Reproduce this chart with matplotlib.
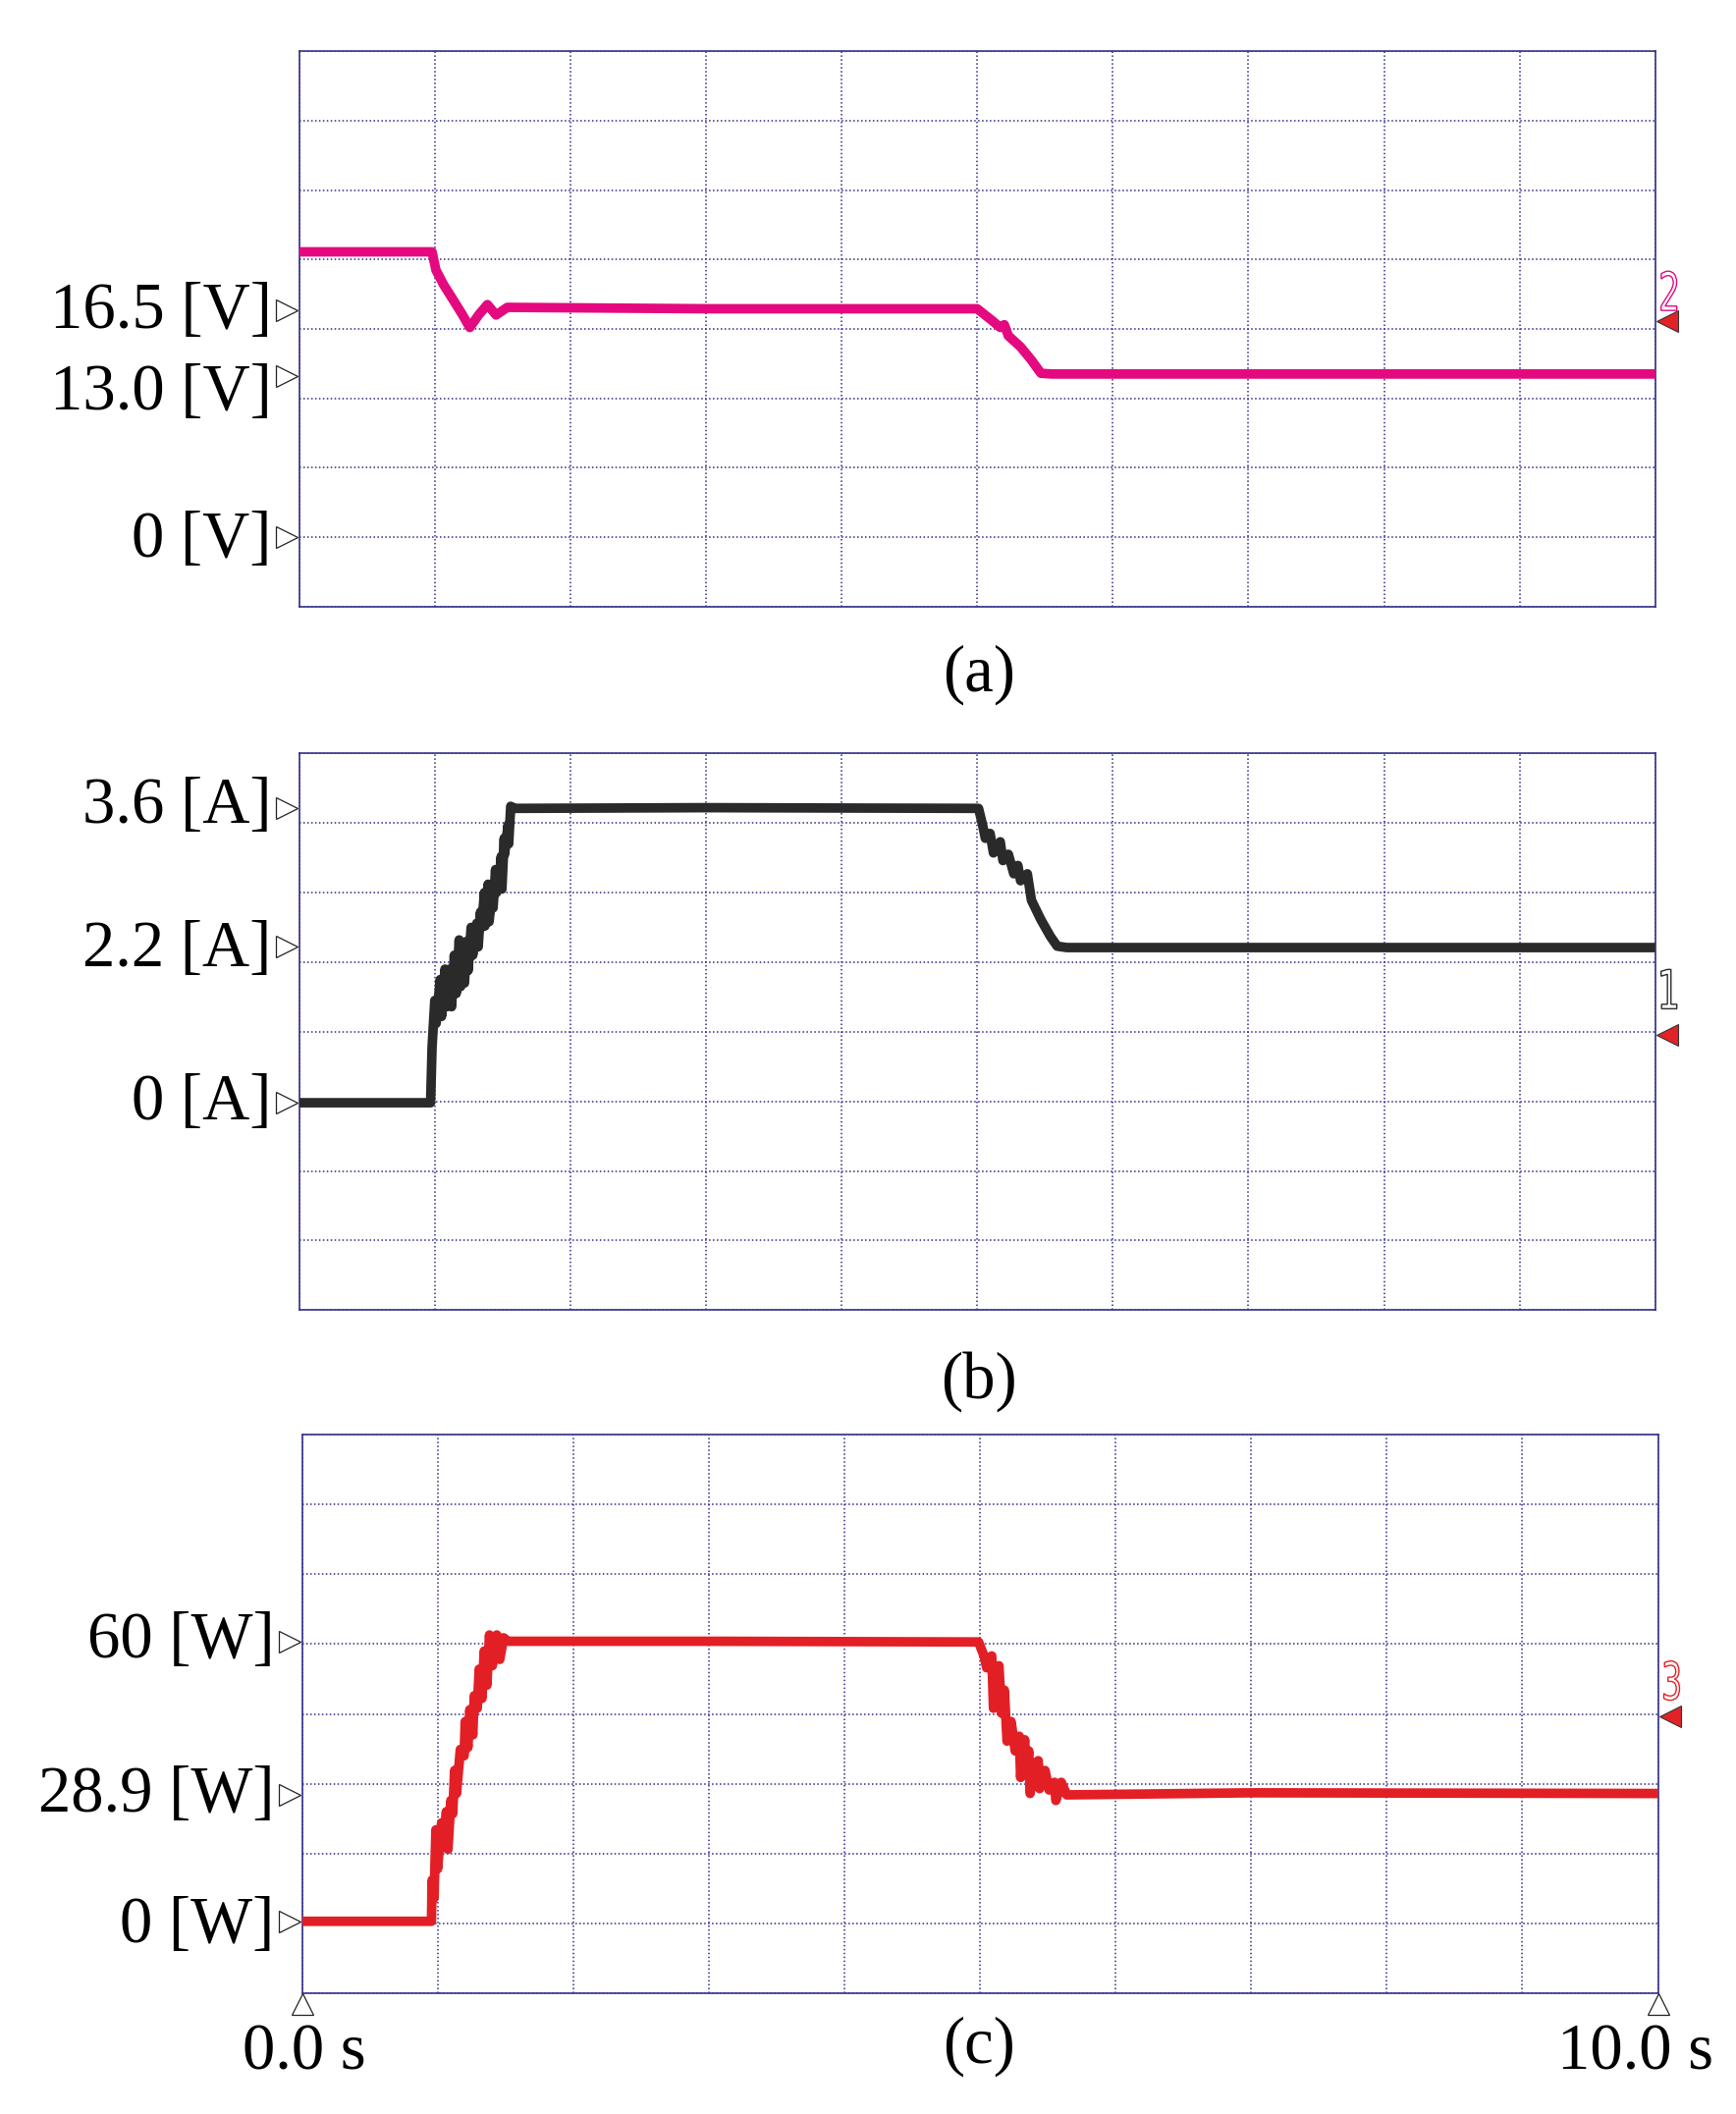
import matplotlib
matplotlib.use("Agg")
import matplotlib.pyplot as plt
from matplotlib.transforms import (blended_transform_factory, offset_copy,
                                   Affine2D, IdentityTransform)
from matplotlib.textpath import TextPath
from matplotlib.patches import PathPatch
from matplotlib.font_manager import FontProperties

# scope screen: 10 div (1 s/div) x 8 div, trace values in divisions
# (a) voltage
t_a = [0, 0.98, 1.008, 1.064, 1.119, 1.202, 1.258, 1.327, 1.388, 1.452, 1.535,
       3.0, 5.0, 5.11, 5.17, 5.20, 5.23, 5.32, 5.40, 5.47, 5.55, 10.0]
v_a = [5.11, 5.11, 4.85, 4.64, 4.47, 4.21, 4.02, 4.21, 4.35, 4.20, 4.31,
       4.29, 4.29, 4.12, 4.02, 4.06, 3.90, 3.74, 3.55, 3.36, 3.35, 3.35]

# (b) current
t_b = [0, 0.969, 0.98, 1.0, 1.01, 1.04, 1.05, 1.075, 1.088, 1.108, 1.124,
       1.144, 1.158, 1.18, 1.191, 1.207, 1.219, 1.235, 1.246, 1.268, 1.28,
       1.31, 1.32, 1.337, 1.345, 1.366, 1.37, 1.393, 1.40, 1.421, 1.43,
       1.448, 1.455, 1.476, 1.49, 1.495, 1.512, 1.515, 1.54, 1.545, 1.56,
       1.59, 3.0, 5.01, 5.04, 5.06, 5.095, 5.12, 5.17, 5.19, 5.23, 5.27,
       5.30, 5.32, 5.37, 5.40, 5.47, 5.54, 5.59, 5.66, 10.0]
v_b = [2.98, 2.98, 3.78, 4.45, 4.12, 4.75, 4.22, 4.90, 4.36, 4.90, 4.36,
       5.10, 4.55, 5.32, 4.65, 5.15, 4.70, 5.30, 4.88, 5.50, 5.10,
       5.56, 5.22, 5.72, 5.50, 6.00, 5.52, 6.12, 5.58, 5.95, 5.78,
       6.33, 6.00, 6.22, 6.52, 6.05, 6.78, 6.55, 6.97, 6.70, 7.24,
       7.21, 7.22, 7.21, 6.97, 6.78, 6.85, 6.57, 6.73, 6.46, 6.55, 6.27,
       6.39, 6.17, 6.27, 5.89, 5.61, 5.37, 5.23, 5.21, 5.21]

# (c) power
t_c = [0, 0.955, 0.96, 0.974, 0.988, 1.0, 1.03, 1.043, 1.065, 1.077, 1.098,
       1.112, 1.126, 1.14, 1.168, 1.196, 1.204, 1.224, 1.238, 1.26, 1.271,
       1.293, 1.307, 1.327, 1.344, 1.364, 1.383, 1.404, 1.437, 1.459, 1.487,
       1.52, 3.0, 4.99, 5.03, 5.05, 5.087, 5.10, 5.14, 5.16, 5.18, 5.20,
       5.23, 5.26, 5.29, 5.30, 5.33, 5.34, 5.36, 5.37, 5.40, 5.43, 5.44,
       5.48, 5.51, 5.55, 5.56, 5.60, 5.64, 7.0, 10.0]
v_c = [1.03, 1.03, 1.62, 1.36, 2.34, 1.78, 2.44, 2.11, 2.60, 2.06, 2.76,
       2.57, 3.19, 2.86, 3.49, 3.40, 3.89, 3.52, 4.06, 3.70, 4.26,
       4.08, 4.64, 4.22, 4.90, 4.41, 5.13, 4.69, 5.13, 4.78, 5.09,
       5.04, 5.04, 5.03, 4.83, 4.66, 4.83, 4.08, 4.69, 4.01, 4.34, 3.61,
       3.89, 3.47, 3.68, 3.09, 3.63, 3.14, 3.47, 2.86, 3.28, 3.33, 2.93,
       3.19, 2.91, 3.02, 2.76, 3.02, 2.84, 2.87, 2.86]

labels_a = ["16.5 [V]", "13.0 [V]", "0 [V]"]
levels_a = [4.27, 3.32, 1.0]
labels_b = ["3.6 [A]", "2.2 [A]", "0 [A]"]
levels_b = [7.22, 5.22, 2.98]
labels_c = ["60 [W]", "28.9 [W]", "0 [W]"]
levels_c = [5.03, 2.84, 1.02]

channels = ["2", "1", "3"]
channel_levels = [4.11, 3.95, 3.97]
captions = ["(a)", "(b)", "(c)"]
time_labels = ["0.0 s", "10.0 s"]

colors = ["#E4097F", "#2A2A2A", "#E31F26"]
grid_color = "#2E2A88"
W, H = 1768, 2153

fig = plt.figure(figsize=(W / 100, H / 100), dpi=100)

rects = [
    [304.7 / W, 1 - 617.7 / H, 1381 / W, 565.5 / H],
    [304.7 / W, 1 - 1334.3 / H, 1381 / W, 567 / H],
    [307.5 / W, 1 - 2030 / H, 1381 / W, 569 / H],
]
caption_y = [687, 1407, 2084]
# small vertical nudges (pixels) of label text against its marker
text_dy = [[-2, -17, -3], [1, -3, 0], [1, 0, -4]]
digit_dy = [11, 27, 16]

serif = ["Liberation Serif", "DejaVu Serif"]
fsize = 48

panels = [
    (t_a, v_a, labels_a, levels_a),
    (t_b, v_b, labels_b, levels_b),
    (t_c, v_c, labels_c, levels_c),
]

axes = []
for i, (ts, vs, labs, levs) in enumerate(panels):
    ax = fig.add_axes(rects[i])
    axes.append(ax)
    ax.set_xlim(0, 10)
    ax.set_ylim(0, 8)
    ax.set_xticks(range(11))
    ax.set_yticks(range(9))
    ax.tick_params(length=0, labelleft=False, labelbottom=False)
    ax.grid(True, color=grid_color, linestyle=(0, (1, 1.6)), linewidth=1.1)
    for s in ax.spines.values():
        s.set_color("#35318A")
        s.set_linewidth(1.2)

    ax.plot(ts, vs, color=colors[i], linewidth=7, solid_joinstyle="round",
            solid_capstyle="butt", zorder=3)

    yt = blended_transform_factory(ax.transAxes, ax.transData)
    for j, (lab, lev) in enumerate(zip(labs, levs)):
        ax.plot([0], [lev], marker=">", markersize=16.5,
                markerfacecolor="white", markeredgecolor="#222222",
                markeredgewidth=0.9, clip_on=False,
                transform=offset_copy(yt, fig, x=-13, y=0, units="dots"))
        ax.text(0, lev, lab, ha="right", va="center", fontsize=fsize,
                family=serif,
                transform=offset_copy(yt, fig, x=-28, y=text_dy[i][j],
                                      units="dots"))

    # channel marker on the right
    cl = channel_levels[i]
    ax.plot([1], [cl], marker="<", markersize=16, markerfacecolor="#E32227",
            markeredgecolor="#333333", markeredgewidth=0.8, clip_on=False,
            transform=offset_copy(yt, fig, x=12, y=0, units="dots"))
    xd, yd = ax.transData.transform((10, cl))
    tp = TextPath((0, 0), channels[i], size=54,
                  prop=FontProperties(family="DejaVu Sans"))
    bb = tp.get_extents()
    tr = (Affine2D().translate(-bb.x0, -bb.y0)
          .scale(16 / bb.width, 40 / bb.height)
          .translate(xd + 6, yd + digit_dy[i]))
    fig.add_artist(PathPatch(tr.transform_path(tp), facecolor="white",
                             edgecolor=colors[i], linewidth=1.0,
                             transform=IdentityTransform()))

    fig.text(996.6 / W, 1 - caption_y[i] / H, captions[i], ha="center",
             va="center", fontsize=fsize, family=serif)

# time markers below panel (c)
axc = axes[2]
xt = blended_transform_factory(axc.transData, axc.transAxes)
for tx in [0, 10]:
    axc.plot([tx], [0], marker="^", markersize=15.5, markerfacecolor="white",
             markeredgecolor="#222222", markeredgewidth=0.9, clip_on=False,
             transform=offset_copy(xt, fig, x=0, y=-11, units="dots"))
fig.text(310 / W, 1 - 2107 / H, time_labels[0], ha="center", va="baseline",
         fontsize=fsize, family=serif)
fig.text(1665 / W, 1 - 2107 / H, time_labels[1], ha="center", va="baseline",
         fontsize=fsize, family=serif)

fig.savefig("out.png", dpi=100)
